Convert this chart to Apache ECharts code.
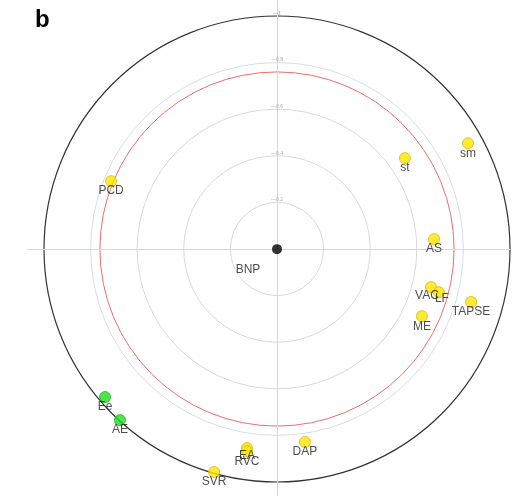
<!DOCTYPE html>
<html><head><meta charset="utf-8">
<script src="https://cdn.jsdelivr.net/npm/echarts@6/dist/echarts.min.js"></script>
<style>html,body{margin:0;padding:0;background:#fff}#c{width:513px;height:499px}</style>
</head><body><div id="c"></div>
<script>
// Correlation of variables with BNP (x, y coordinates on the unit circle plot)
const yellowNames = ['PCD','st','sm','AS','VAC','LF','TAPSE','ME','EA','RVC','DAP','SVR'];
const yellowX     = [-0.712, 0.549, 0.820, 0.674, 0.661, 0.695, 0.833, 0.622, -0.129, -0.129, 0.120, -0.270];
const yellowY     = [ 0.292, 0.391, 0.455, 0.043, -0.163, -0.185, -0.227, -0.288, -0.854, -0.867, -0.828, -0.957];
const greenNames  = ['Ee','AE'];
const greenX      = [-0.738, -0.674];
const greenY      = [-0.635, -0.734];
const centerName  = 'BNP';
const radiusTicks = ['0', '0.2', '0.4', '0.6', '0.8', '1'];
const thresholdR  = 0.76;

const C = [277, 249], R = 233;
const labelOffsets = {VAC:[-4,9], LF:[3,6], EA:[0,8], RVC:[0,11]};

function pts(names, xs, ys) {
  return names.map((n, i) => ({
    value: [xs[i], ys[i]], name: n,
    label: { offset: labelOffsets[n] || [0, 10] }
  }));
}

const chart = echarts.init(document.getElementById('c'));
const lab = { show: true, position: 'inside', formatter: '{b}', color: '#222',
  textBorderWidth: 0, textShadowBlur: 0,
  fontFamily: 'Liberation Sans, Arial, sans-serif', fontSize: 12 };

chart.setOption({
  animation: false,
  title: { text: 'b', left: 30, top: 3,
    textStyle: { fontSize: 24, fontWeight: 'bold', color: '#000', fontFamily: 'Liberation Sans, Arial' } },
  polar: [
    { center: C, radius: R },
    { center: C, radius: R * 0.8 },
    { center: C, radius: R * thresholdR }
  ],
  angleAxis: [
    { polarIndex: 0, type: 'value', min: 0, max: 360, startAngle: 90,
      axisLine: { show: true, lineStyle: { color: '#333', width: 1.2 } },
      axisTick: { show: false }, axisLabel: { show: false }, splitLine: { show: false } },
    { polarIndex: 1, type: 'value', min: 0, max: 360, startAngle: 90,
      axisLine: { show: true, lineStyle: { color: '#d6dde8', width: 1 } },
      axisTick: { show: false }, axisLabel: { show: false }, splitLine: { show: false } },
    { polarIndex: 2, type: 'value', min: 0, max: 360, startAngle: 90,
      axisLine: { show: true, lineStyle: { color: '#ec6b6b', width: 1 } },
      axisTick: { show: false }, axisLabel: { show: false }, splitLine: { show: false } }
  ],
  radiusAxis: [
    { polarIndex: 0, type: 'category', data: radiusTicks, boundaryGap: false,
      axisLine: { show: false }, axisTick: { show: false },
      axisLabel: { show: true, fontSize: 5, color: '#aaa', align: 'center', verticalAlign: 'bottom', margin: 0,
        formatter: v => v === '0' ? '' : '\u2014' + v },
      splitLine: { show: true, lineStyle: { color: ['#fff', '#d9d9d9', '#d9d9d9', '#d9d9d9', 'rgba(0,0,0,0)', 'rgba(0,0,0,0)'], width: 1 } } },
    { polarIndex: 1, type: 'value', min: 0, max: 1, show: false },
    { polarIndex: 2, type: 'value', min: 0, max: 1, show: false }
  ],
  grid: { left: C[0] - 1.07 * R, width: 2.07 * R, top: C[1] - 1.07 * R, height: 2.13 * R, containLabel: false },
  xAxis: { type: 'value', min: -1.07, max: 1.0,
    axisLine: { onZero: true, lineStyle: { color: '#d8d8d8' } },
    axisTick: { show: false }, axisLabel: { show: false }, splitLine: { show: false } },
  yAxis: { type: 'value', min: -1.06, max: 1.07,
    axisLine: { onZero: true, lineStyle: { color: '#d8d8d8' } },
    axisTick: { show: false }, axisLabel: { show: false }, splitLine: { show: false } },
  series: [
    { type: 'scatter', symbolSize: 11, data: pts(yellowNames, yellowX, yellowY),
      itemStyle: { color: '#ffe600', borderColor: '#e3b300', borderWidth: 1 }, label: lab, z: 5 },
    { type: 'scatter', symbolSize: 11, data: pts(greenNames, greenX, greenY),
      itemStyle: { color: '#22dd22', borderColor: '#17b817', borderWidth: 1 }, label: lab, z: 5 },
    { type: 'scatter', symbolSize: 10, data: [{ value: [0, 0], name: centerName, label: { offset: [-29, 21] } }],
      itemStyle: { color: '#000' }, label: lab, z: 6 }
  ]
});
</script></body></html>
